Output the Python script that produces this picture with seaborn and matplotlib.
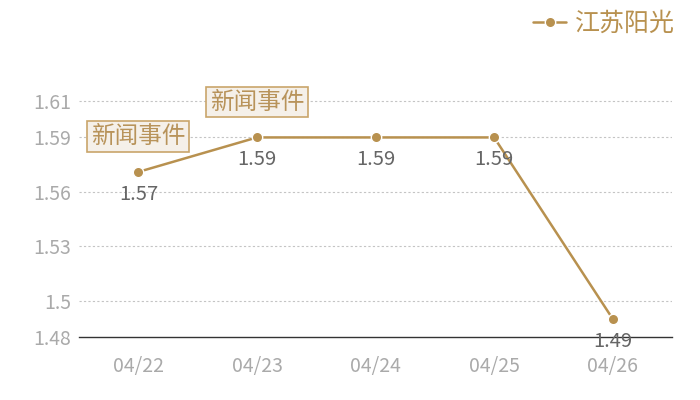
import pandas as pd
import matplotlib
matplotlib.use("Agg")
import matplotlib.pyplot as plt
import seaborn as sns

# data
dates = ["04/22", "04/23", "04/24", "04/25", "04/26"]
values = [1.571, 1.59, 1.59, 1.59, 1.49]
value_labels = ["1.57", "1.59", "1.59", "1.59", "1.49"]
series_name = "江苏阳光"
yticks = [1.48, 1.5, 1.53, 1.56, 1.59, 1.61]
ytick_labels = ["1.48", "1.5", "1.53", "1.56", "1.59", "1.61"]
event_idx = [0, 1]
event_text = "新闻事件"

GOLD = "#b8914f"

sns.set_style("white")
plt.rcParams['font.family'] = ['Noto Sans CJK SC', 'DejaVu Sans']

df = pd.DataFrame({"x": range(len(dates)), "value": values})

fig = plt.figure(figsize=(7, 4), dpi=100)
ax = fig.add_axes([0.113, 0.1575, 0.847, 0.635])

sns.lineplot(data=df, x="x", y="value", ax=ax, color=GOLD, linewidth=1.8,
             marker="o", markersize=7.5, markeredgecolor="white",
             markeredgewidth=1.0, label=series_name, legend=False)

ax.set_xlim(-0.5, len(dates) - 0.5)
ax.set_ylim(1.48, 1.62)
ax.set_xticks(range(len(dates)))
ax.set_xticklabels(dates, color="#aaaaaa", fontsize=14)
ax.set_yticks(yticks)
ax.set_yticklabels(ytick_labels, color="#aaaaaa", fontsize=14)
ax.tick_params(axis="both", length=0, pad=6)
ax.tick_params(axis="x", pad=14)
ax.set_xlabel("")
ax.set_ylabel("")

for tick in yticks[1:]:
    ax.axhline(tick, color="#c4c4c4", linestyle=(0, (2, 2)), linewidth=0.8, zorder=0)

for side in ["top", "right", "left"]:
    ax.spines[side].set_visible(False)
ax.spines["bottom"].set_color("#333333")
ax.spines["bottom"].set_linewidth(1.0)

# value labels under points
for i, (v, lab) in enumerate(zip(values, value_labels)):
    ax.annotate(lab, (i, v), xytext=(0, -16), textcoords="offset points",
                ha="center", va="center", fontsize=14.5, color="#666666")

# event boxes
for i in event_idx:
    ax.annotate(event_text, (i, values[i]), xytext=(0, 25.5), textcoords="offset points",
                ha="center", va="center", fontsize=17, color="#b8935a",
                bbox=dict(boxstyle="square,pad=0.16", facecolor="#f5f0e9",
                          edgecolor="#c9a56b", linewidth=1.2))

leg = fig.legend(handles=ax.get_lines()[:1], labels=[series_name], loc="upper right",
                 bbox_to_anchor=(0.996, 1.03), frameon=False, fontsize=18,
                 handlelength=1.3, handletextpad=0.35, labelcolor=GOLD)

fig.savefig("out.png", dpi=100)
